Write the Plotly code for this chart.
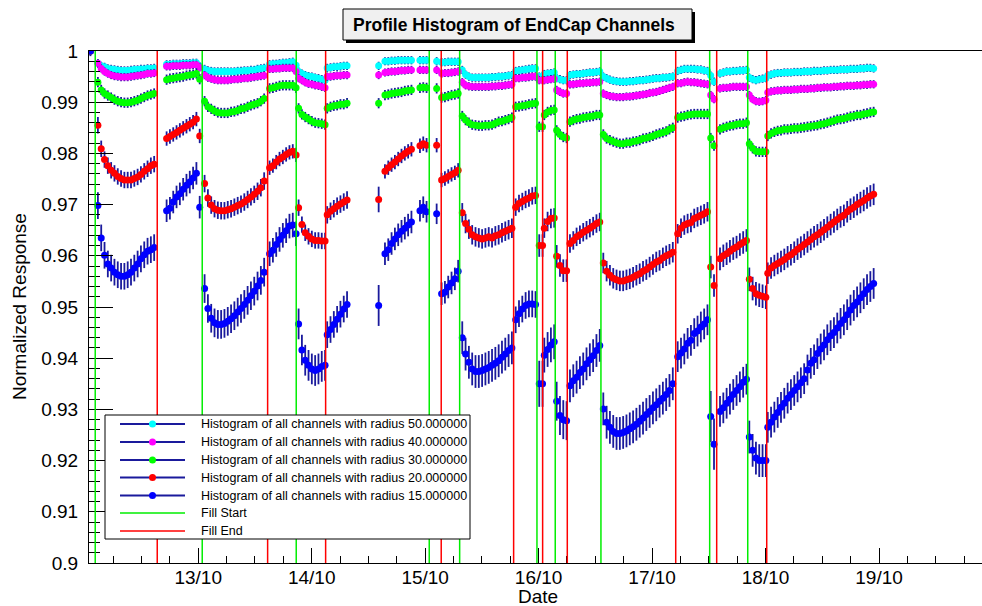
import pandas as pd
import plotly.graph_objects as go

# ---------------- data ----------------
BIN_MINUTES = 42  # width of one profile-histogram bin

# start time of each contiguous run of filled bins
seg_start = [
    "2012-10-12 01:12", "2012-10-12 02:47", "2012-10-12 17:19", "2012-10-13 01:21",
    "2012-10-13 15:06", "2012-10-13 21:14", "2012-10-14 03:17", "2012-10-14 14:10",
    "2012-10-14 15:30", "2012-10-14 22:54", "2012-10-15 02:26", "2012-10-15 03:29",
    "2012-10-15 07:51", "2012-10-15 19:09", "2012-10-16 00:08", "2012-10-16 01:12",
    "2012-10-16 03:49", "2012-10-16 06:38", "2012-10-16 13:41", "2012-10-17 05:25",
    "2012-10-17 12:24", "2012-10-17 14:22", "2012-10-17 20:34", "2012-10-18 00:28",
]

r50 = [
    [1.0],
    [0.9976, 0.9971, 0.9969, 0.9966, 0.9965, 0.9964, 0.9963, 0.9962, 0.9962, 0.9962, 0.9963, 0.9964, 0.9964, 0.9965, 0.9965, 0.9966, 0.9966, 0.9967],
    [0.9974, 0.9974, 0.9975, 0.9975, 0.9975, 0.9976, 0.9976, 0.9976, 0.9977, 0.9977, 0.9970],
    [0.9965, 0.9962, 0.9961, 0.9960, 0.9960, 0.9960, 0.9960, 0.9960, 0.9960, 0.9960, 0.9961, 0.9961, 0.9962, 0.9962, 0.9963, 0.9963, 0.9965, 0.9966, 0.9967],
    [0.9974, 0.9975, 0.9975, 0.9976, 0.9977, 0.9977, 0.9978, 0.9979, 0.9972],
    [0.9960, 0.9956, 0.9953, 0.9951, 0.9950, 0.9948, 0.9947, 0.9945, 0.9943],
    [0.9967, 0.9968, 0.9969, 0.9969, 0.9970, 0.9971, 0.9971],
    [0.9971],
    [0.9980, 0.9980, 0.9981, 0.9981, 0.9982, 0.9982, 0.9982, 0.9982, 0.9982],
    [0.9982, 0.9982, 0.9982],
    [0.9980],
    [0.9978, 0.9978, 0.9979, 0.9979, 0.9979, 0.9979],
    [0.9963, 0.9954, 0.9950, 0.9948, 0.9948, 0.9948, 0.9948, 0.9948, 0.9948, 0.9949, 0.9949, 0.9950, 0.9950, 0.9951, 0.9952, 0.9953],
    [0.9961, 0.9962, 0.9963, 0.9964, 0.9965, 0.9966, 0.9966],
    [0.9950, 0.9950],
    [0.9955, 0.9956, 0.9957, 0.9958],
    [0.9947, 0.9945, 0.9943, 0.9943],
    [0.9953, 0.9954, 0.9955, 0.9955, 0.9956, 0.9957, 0.9958, 0.9958, 0.9959, 0.9960],
    [0.9950, 0.9947, 0.9944, 0.9942, 0.9941, 0.9940, 0.9940, 0.9940, 0.9941, 0.9941, 0.9942, 0.9943, 0.9943, 0.9944, 0.9945, 0.9946, 0.9947, 0.9947, 0.9948, 0.9948, 0.9949, 0.9950],
    [0.9961, 0.9963, 0.9965, 0.9965, 0.9965, 0.9965, 0.9964, 0.9964, 0.9962, 0.9961],
    [0.9952, 0.9940],
    [0.9956, 0.9958, 0.9960, 0.9960, 0.9961, 0.9961, 0.9962, 0.9962, 0.9963],
    [0.9948, 0.9945, 0.9943, 0.9945, 0.9946, 0.9947],
    [0.9952, 0.9954, 0.9956, 0.9957, 0.9957, 0.9958, 0.9958, 0.9958, 0.9959, 0.9959, 0.9959, 0.9960, 0.9960, 0.9960, 0.9961, 0.9961, 0.9961, 0.9962, 0.9962, 0.9963, 0.9963, 0.9963, 0.9964, 0.9964, 0.9964, 0.9965, 0.9965, 0.9965, 0.9966, 0.9966, 0.9967, 0.9967, 0.9966],
]

r40 = [
    [1.0],
    [0.9976, 0.9966, 0.9960, 0.9956, 0.9953, 0.9951, 0.9950, 0.9949, 0.9949, 0.9949, 0.9950, 0.9951, 0.9952, 0.9953, 0.9954, 0.9956, 0.9956, 0.9957],
    [0.9970, 0.9970, 0.9971, 0.9971, 0.9971, 0.9972, 0.9972, 0.9972, 0.9973, 0.9973, 0.9968],
    [0.9953, 0.9948, 0.9946, 0.9944, 0.9943, 0.9943, 0.9943, 0.9943, 0.9944, 0.9945, 0.9945, 0.9946, 0.9947, 0.9947, 0.9948, 0.9949, 0.9950, 0.9951, 0.9952],
    [0.9965, 0.9965, 0.9966, 0.9966, 0.9967, 0.9967, 0.9967, 0.9967, 0.9960],
    [0.9947, 0.9943, 0.9939, 0.9936, 0.9935, 0.9933, 0.9932, 0.9930, 0.9928],
    [0.9950, 0.9950, 0.9951, 0.9952, 0.9952, 0.9953, 0.9953],
    [0.9953],
    [0.9958, 0.9959, 0.9960, 0.9960, 0.9961, 0.9962, 0.9962, 0.9963, 0.9963],
    [0.9963, 0.9963, 0.9963],
    [0.9963],
    [0.9956, 0.9957, 0.9957, 0.9958, 0.9959, 0.9960],
    [0.9939, 0.9933, 0.9931, 0.9930, 0.9930, 0.9930, 0.9930, 0.9930, 0.9930, 0.9931, 0.9931, 0.9932, 0.9932, 0.9933, 0.9934, 0.9935],
    [0.9947, 0.9947, 0.9948, 0.9948, 0.9949, 0.9950, 0.9950],
    [0.9943, 0.9943],
    [0.9943, 0.9944, 0.9945, 0.9946],
    [0.9924, 0.9920, 0.9917, 0.9917],
    [0.9935, 0.9935, 0.9936, 0.9937, 0.9937, 0.9938, 0.9938, 0.9939, 0.9939, 0.9940],
    [0.9917, 0.9914, 0.9912, 0.9911, 0.9910, 0.9910, 0.9910, 0.9911, 0.9911, 0.9912, 0.9913, 0.9914, 0.9915, 0.9916, 0.9918, 0.9919, 0.9920, 0.9922, 0.9924, 0.9926, 0.9928, 0.9930],
    [0.9937, 0.9937, 0.9939, 0.9940, 0.9939, 0.9939, 0.9938, 0.9937, 0.9936, 0.9935],
    [0.9914, 0.9906],
    [0.9927, 0.9928, 0.9928, 0.9929, 0.9930, 0.9930, 0.9930, 0.9930, 0.9930],
    [0.9914, 0.9906, 0.9902, 0.9901, 0.9902, 0.9904],
    [0.9919, 0.9921, 0.9922, 0.9923, 0.9923, 0.9924, 0.9924, 0.9924, 0.9925, 0.9925, 0.9926, 0.9926, 0.9926, 0.9927, 0.9927, 0.9928, 0.9928, 0.9929, 0.9929, 0.9929, 0.9930, 0.9930, 0.9931, 0.9931, 0.9932, 0.9932, 0.9932, 0.9933, 0.9933, 0.9934, 0.9934, 0.9935, 0.9935],
]

r30 = [
    [1.0],
    [0.9939, 0.9924, 0.9917, 0.9913, 0.9909, 0.9905, 0.9902, 0.9900, 0.9899, 0.9899, 0.9900, 0.9902, 0.9904, 0.9907, 0.9910, 0.9913, 0.9915, 0.9917],
    [0.9944, 0.9946, 0.9947, 0.9948, 0.9949, 0.9950, 0.9952, 0.9953, 0.9954, 0.9956, 0.9945],
    [0.9902, 0.9891, 0.9887, 0.9883, 0.9880, 0.9879, 0.9879, 0.9879, 0.9881, 0.9882, 0.9884, 0.9887, 0.9888, 0.9891, 0.9894, 0.9896, 0.9898, 0.9902, 0.9907],
    [0.9927, 0.9928, 0.9930, 0.9932, 0.9933, 0.9933, 0.9933, 0.9933, 0.9928],
    [0.9888, 0.9876, 0.9871, 0.9867, 0.9863, 0.9860, 0.9859, 0.9858, 0.9856],
    [0.9888, 0.9891, 0.9893, 0.9894, 0.9896, 0.9896, 0.9898],
    [0.9898],
    [0.9914, 0.9915, 0.9917, 0.9918, 0.9919, 0.9920, 0.9922, 0.9923, 0.9924],
    [0.9928, 0.9929, 0.9928],
    [0.9927],
    [0.9909, 0.9910, 0.9912, 0.9914, 0.9915, 0.9917],
    [0.9873, 0.9865, 0.9860, 0.9856, 0.9855, 0.9854, 0.9854, 0.9855, 0.9855, 0.9856, 0.9859, 0.9862, 0.9863, 0.9865, 0.9867, 0.9870],
    [0.9891, 0.9892, 0.9893, 0.9894, 0.9896, 0.9897, 0.9898],
    [0.9852, 0.9852],
    [0.9875, 0.9881, 0.9884, 0.9885],
    [0.9845, 0.9837, 0.9832, 0.9830],
    [0.9862, 0.9865, 0.9867, 0.9868, 0.9870, 0.9871, 0.9872, 0.9873, 0.9875, 0.9875],
    [0.9837, 0.9829, 0.9826, 0.9823, 0.9821, 0.9819, 0.9819, 0.9821, 0.9821, 0.9823, 0.9824, 0.9826, 0.9829, 0.9830, 0.9832, 0.9834, 0.9837, 0.9839, 0.9841, 0.9843, 0.9847, 0.9850],
    [0.9870, 0.9872, 0.9873, 0.9875, 0.9876, 0.9877, 0.9877, 0.9877, 0.9877, 0.9877],
    [0.9830, 0.9815],
    [0.9847, 0.9850, 0.9852, 0.9854, 0.9855, 0.9857, 0.9858, 0.9858, 0.9860],
    [0.9819, 0.9810, 0.9804, 0.9803, 0.9803, 0.9803],
    [0.9834, 0.9839, 0.9842, 0.9844, 0.9845, 0.9847, 0.9847, 0.9848, 0.9849, 0.9849, 0.9850, 0.9851, 0.9852, 0.9853, 0.9854, 0.9855, 0.9857, 0.9858, 0.9860, 0.9862, 0.9864, 0.9866, 0.9867, 0.9868, 0.9870, 0.9872, 0.9873, 0.9875, 0.9875, 0.9877, 0.9878, 0.9880, 0.9881],
]

r20 = [
    [1.0],
    [0.9855, 0.9809, 0.9788, 0.9776, 0.9767, 0.9761, 0.9755, 0.9751, 0.9748, 0.9748, 0.9748, 0.9751, 0.9754, 0.9759, 0.9765, 0.9770, 0.9776, 0.9779],
    [0.9829, 0.9833, 0.9837, 0.9841, 0.9845, 0.9849, 0.9853, 0.9857, 0.9861, 0.9867, 0.9834],
    [0.9741, 0.9713, 0.9699, 0.9692, 0.9689, 0.9688, 0.9688, 0.9690, 0.9692, 0.9695, 0.9698, 0.9701, 0.9705, 0.9710, 0.9715, 0.9720, 0.9726, 0.9733, 0.9746],
    [0.9772, 0.9776, 0.9783, 0.9789, 0.9793, 0.9798, 0.9802, 0.9804, 0.9797],
    [0.9694, 0.9661, 0.9645, 0.9638, 0.9633, 0.9630, 0.9630, 0.9629, 0.9629],
    [0.9680, 0.9687, 0.9692, 0.9697, 0.9701, 0.9705, 0.9709],
    [0.9710],
    [0.9765, 0.9772, 0.9778, 0.9783, 0.9789, 0.9795, 0.9800, 0.9804, 0.9808],
    [0.9815, 0.9819, 0.9816],
    [0.9816],
    [0.9748, 0.9751, 0.9755, 0.9759, 0.9762, 0.9767],
    [0.9684, 0.9663, 0.9652, 0.9641, 0.9637, 0.9635, 0.9633, 0.9635, 0.9637, 0.9635, 0.9639, 0.9641, 0.9645, 0.9648, 0.9651, 0.9654],
    [0.9695, 0.9702, 0.9706, 0.9710, 0.9713, 0.9717, 0.9718],
    [0.9620, 0.9620],
    [0.9654, 0.9667, 0.9673, 0.9674],
    [0.9599, 0.9581, 0.9571, 0.9571],
    [0.9624, 0.9630, 0.9637, 0.9641, 0.9646, 0.9650, 0.9654, 0.9658, 0.9663, 0.9666],
    [0.9586, 0.9570, 0.9562, 0.9556, 0.9553, 0.9551, 0.9551, 0.9553, 0.9555, 0.9558, 0.9562, 0.9565, 0.9570, 0.9573, 0.9578, 0.9583, 0.9588, 0.9591, 0.9596, 0.9600, 0.9603, 0.9607],
    [0.9643, 0.9654, 0.9660, 0.9663, 0.9665, 0.9673, 0.9676, 0.9679, 0.9682, 0.9686],
    [0.9578, 0.9542],
    [0.9594, 0.9600, 0.9604, 0.9609, 0.9614, 0.9617, 0.9622, 0.9626, 0.9630],
    [0.9554, 0.9536, 0.9526, 0.9523, 0.9521, 0.9519],
    [0.9566, 0.9576, 0.9581, 0.9585, 0.9589, 0.9593, 0.9598, 0.9602, 0.9607, 0.9613, 0.9617, 0.9622, 0.9627, 0.9632, 0.9637, 0.9641, 0.9646, 0.9651, 0.9656, 0.9661, 0.9666, 0.9671, 0.9676, 0.9679, 0.9686, 0.9691, 0.9695, 0.9700, 0.9704, 0.9708, 0.9713, 0.9717, 0.9720],
]

r15 = [
    [1.0],
    [0.9698, 0.9635, 0.9601, 0.9584, 0.9576, 0.9568, 0.9563, 0.9560, 0.9560, 0.9563, 0.9568, 0.9576, 0.9584, 0.9594, 0.9602, 0.9609, 0.9612, 0.9616],
    [0.9688, 0.9693, 0.9705, 0.9715, 0.9721, 0.9730, 0.9738, 0.9744, 0.9752, 0.9761, 0.9695],
    [0.9536, 0.9497, 0.9478, 0.9469, 0.9466, 0.9466, 0.9468, 0.9472, 0.9477, 0.9483, 0.9490, 0.9497, 0.9505, 0.9513, 0.9522, 0.9531, 0.9541, 0.9552, 0.9568],
    [0.9604, 0.9611, 0.9622, 0.9632, 0.9640, 0.9649, 0.9658, 0.9660, 0.9643],
    [0.9467, 0.9416, 0.9396, 0.9386, 0.9379, 0.9376, 0.9379, 0.9384, 0.9386],
    [0.9446, 0.9456, 0.9466, 0.9476, 0.9486, 0.9496, 0.9505],
    [0.9503],
    [0.9604, 0.9612, 0.9624, 0.9633, 0.9641, 0.9648, 0.9654, 0.9660, 0.9666],
    [0.9688, 0.9695, 0.9686],
    [0.9682],
    [0.9526, 0.9529, 0.9539, 0.9547, 0.9555, 0.9570],
    [0.9440, 0.9408, 0.9392, 0.9379, 0.9374, 0.9374, 0.9376, 0.9379, 0.9382, 0.9386, 0.9390, 0.9395, 0.9402, 0.9408, 0.9415, 0.9420],
    [0.9475, 0.9487, 0.9496, 0.9503, 0.9506, 0.9506, 0.9505],
    [0.9350, 0.9350],
    [0.9406, 0.9417, 0.9426, 0.9432],
    [0.9316, 0.9288, 0.9280, 0.9278],
    [0.9346, 0.9356, 0.9363, 0.9372, 0.9379, 0.9389, 0.9397, 0.9405, 0.9415, 0.9425],
    [0.9301, 0.9275, 0.9265, 0.9257, 0.9253, 0.9253, 0.9255, 0.9258, 0.9262, 0.9266, 0.9271, 0.9277, 0.9283, 0.9290, 0.9296, 0.9303, 0.9309, 0.9316, 0.9322, 0.9329, 0.9337, 0.9350],
    [0.9403, 0.9410, 0.9418, 0.9429, 0.9435, 0.9448, 0.9453, 0.9461, 0.9467, 0.9475],
    [0.9286, 0.9232],
    [0.9296, 0.9303, 0.9312, 0.9320, 0.9329, 0.9337, 0.9344, 0.9353, 0.9359],
    [0.9246, 0.9220, 0.9205, 0.9200, 0.9200, 0.9200],
    [0.9265, 0.9275, 0.9285, 0.9294, 0.9304, 0.9312, 0.9322, 0.9329, 0.9337, 0.9344, 0.9352, 0.9360, 0.9377, 0.9390, 0.9397, 0.9409, 0.9418, 0.9426, 0.9436, 0.9444, 0.9450, 0.9459, 0.9468, 0.9475, 0.9485, 0.9494, 0.9503, 0.9510, 0.9518, 0.9526, 0.9534, 0.9540, 0.9546],
]

# error (spread) per run of bins
err50 = 0.0008
err40 = 0.0008
err30 = 0.0010
err20 = [0.0001, 0.0016, 0.0014, 0.0017, 0.0014, 0.0016, 0.0017, 0.0025, 0.0014, 0.0014, 0.0014, 0.0014,
         0.0019, 0.0017, 0.0022, 0.0019, 0.0022, 0.0018, 0.0020, 0.0019, 0.0022, 0.0022, 0.0023, 0.0021]
err15 = [0.0002, 0.0026, 0.0022, 0.0028, 0.0024, 0.0030, 0.0026, 0.0040, 0.0022, 0.0021, 0.0020, 0.0022,
         0.0032, 0.0026, 0.0045, 0.0034, 0.0038, 0.0032, 0.0032, 0.0030, 0.0050, 0.0030, 0.0032, 0.0030]

fill_start = ["2012-10-12 02:13", "2012-10-13 00:51", "2012-10-13 20:44", "2012-10-15 00:52",
              "2012-10-15 07:18", "2012-10-15 23:39", "2012-10-16 03:31", "2012-10-16 13:11",
              "2012-10-17 12:11", "2012-10-17 20:14"]
fill_end = ["2012-10-12 15:20", "2012-10-13 14:41", "2012-10-14 02:57", "2012-10-15 03:24",
            "2012-10-15 18:43", "2012-10-16 00:51", "2012-10-16 06:04", "2012-10-17 05:00",
            "2012-10-17 13:40", "2012-10-18 00:15"]

x_range = ["2012-10-12 00:54", "2012-10-19 21:47"]
x_tick_dates = ["2012-10-13", "2012-10-14", "2012-10-15", "2012-10-16", "2012-10-17", "2012-10-18", "2012-10-19"]
x_tick_labels = ["13/10", "14/10", "15/10", "16/10", "17/10", "18/10", "19/10"]
y_tick_vals = [0.90, 0.91, 0.92, 0.93, 0.94, 0.95, 0.96, 0.97, 0.98, 0.99, 1.00]
y_tick_labels = ["0.9", "0.91", "0.92", "0.93", "0.94", "0.95", "0.96", "0.97", "0.98", "0.99", "1"]

series_labels = ["Histogram of all channels with radius 50.000000",
                 "Histogram of all channels with radius 40.000000",
                 "Histogram of all channels with radius 30.000000",
                 "Histogram of all channels with radius 20.000000",
                 "Histogram of all channels with radius 15.000000"]
series_colors = ["#00ffff", "#ff00ff", "#00ff00", "#ff0000", "#0000ff"]
ERR_COLOR = "#1a1a9c"
FONT = "Liberation Sans, Arial, Helvetica, sans-serif"


def expand(segments):
    xs, ys = [], []
    for start, vals in zip(seg_start, segments):
        t0 = pd.Timestamp(start)
        for k, v in enumerate(vals):
            xs.append(t0 + pd.Timedelta(minutes=BIN_MINUTES * k))
            ys.append(v)
    return xs, ys


def expand_err(segments, err):
    out = []
    for i, vals in enumerate(segments):
        e = err[i] if isinstance(err, list) else err
        out.extend([e] * len(vals))
    return out


fig = go.Figure()
for segs, err, col in zip([r50, r40, r30, r20, r15], [err50, err40, err30, err20, err15], series_colors):
    xs, ys = expand(segs)
    fig.add_trace(go.Scatter(
        x=xs, y=ys, mode="markers",
        marker=dict(color=col, size=7, line=dict(width=0)),
        error_y=dict(type="data", array=expand_err(segs, err), color=ERR_COLOR, thickness=1.8, width=0),
        showlegend=False, hoverinfo="skip"))

# ---------------- layout helpers (pixel -> paper) ----------------
L, R, T, B = 89, 982, 51, 563


def px(x):
    return (x - L) / (R - L)


def py(y):
    return (B - y) / (B - T)


shapes = []
for t in fill_start:
    shapes.append(dict(type="line", xref="x", yref="paper", x0=t, x1=t, y0=0, y1=1,
                       line=dict(color="#00ee00", width=1.5), layer="above"))
for t in fill_end:
    shapes.append(dict(type="line", xref="x", yref="paper", x0=t, x1=t, y0=0, y1=1,
                       line=dict(color="#ff0000", width=1.5), layer="above"))

# title box with shadow
shapes.append(dict(type="rect", xref="paper", yref="paper", x0=px(346), x1=px(695), y0=py(43), y1=py(12),
                   fillcolor="black", line=dict(width=0), layer="above"))
shapes.append(dict(type="rect", xref="paper", yref="paper", x0=px(343), x1=px(692), y0=py(40), y1=py(9),
                   fillcolor="#f0f0f0", line=dict(color="black", width=1), layer="above"))

# legend box
shapes.append(dict(type="rect", xref="paper", yref="paper", x0=px(105), x1=px(470), y0=py(539), y1=py(415),
                   fillcolor="white", line=dict(color="black", width=1), layer="above"))
row_y = [424, 442, 460, 477.5, 495.5, 513, 531]
legend_text = series_labels + ["Fill Start", "Fill End"]
for i, ry in enumerate(row_y):
    if i < 5:
        lc, lw = ERR_COLOR, 2
    elif i == 5:
        lc, lw = "#00ee00", 1.5
    else:
        lc, lw = "#ff0000", 1.5
    shapes.append(dict(type="line", xref="paper", yref="paper", x0=px(120), x1=px(185), y0=py(ry), y1=py(ry),
                       line=dict(color=lc, width=lw), layer="above"))
    if i < 5:
        shapes.append(dict(type="circle", xref="paper", yref="paper", xsizemode="pixel", ysizemode="pixel",
                           xanchor=px(152.5), yanchor=py(ry), x0=-3.5, x1=3.5, y0=-3.5, y1=3.5,
                           fillcolor=series_colors[i], line=dict(width=0), layer="above"))

annotations = []
for ry, txt in zip(row_y, legend_text):
    annotations.append(dict(xref="paper", yref="paper", x=px(199), y=py(ry), xanchor="left", yanchor="middle",
                            text=txt, showarrow=False, font=dict(family=FONT, size=12.5, color="black")))
annotations.append(dict(xref="paper", yref="paper", x=px(514), y=py(24.5), xanchor="center", yanchor="middle",
                        text="<b>Profile Histogram of EndCap Channels</b>", showarrow=False,
                        font=dict(family=FONT, size=17.5, color="black")))
annotations.append(dict(xref="paper", yref="paper", x=px(538), y=py(596), xanchor="center", yanchor="middle",
                        text="Date", showarrow=False, font=dict(family=FONT, size=19, color="black")))
annotations.append(dict(xref="paper", yref="paper", x=px(19), y=py(307), xanchor="center", yanchor="middle",
                        text="Normalized Response", textangle=-90, showarrow=False,
                        font=dict(family=FONT, size=19, color="black")))

fig.update_layout(
    width=982, height=606, autosize=False,
    margin=dict(l=L, r=982 - R, t=T, b=606 - B, pad=0),
    paper_bgcolor="white", plot_bgcolor="white",
    font=dict(family=FONT, color="black"),
    showlegend=False,
    shapes=shapes, annotations=annotations,
    xaxis=dict(type="date", range=x_range, showgrid=False, zeroline=False,
               showline=True, linecolor="black", linewidth=1, mirror=True,
               ticks="inside", ticklen=15, tickwidth=1, tickcolor="black",
               tickmode="array", tickvals=x_tick_dates, ticktext=x_tick_labels,
               tickfont=dict(family=FONT, size=19, color="black"), ticklabelstandoff=-3,
               minor=dict(ticks="inside", ticklen=7.5, tickwidth=1, tickcolor="black",
                          dtick=6 * 3600 * 1000, tick0="2012-10-13", showgrid=False)),
    yaxis=dict(range=[0.9, 1.0], showgrid=False, zeroline=False,
               showline=True, linecolor="black", linewidth=1, mirror=False,
               ticks="inside", ticklen=24, tickwidth=1, tickcolor="black",
               tickmode="array", tickvals=y_tick_vals, ticktext=y_tick_labels,
               tickfont=dict(family=FONT, size=19, color="black"), ticklabelstandoff=6,
               minor=dict(ticks="inside", ticklen=11, tickwidth=1, tickcolor="black",
                          dtick=0.002, tick0=0.9, showgrid=False)),
)

fig.write_html("out.html", config={"displayModeBar": False, "responsive": False},
               post_script="document.body.style.margin='0';document.body.style.overflow='hidden';"
                           "document.documentElement.style.overflow='hidden';")
